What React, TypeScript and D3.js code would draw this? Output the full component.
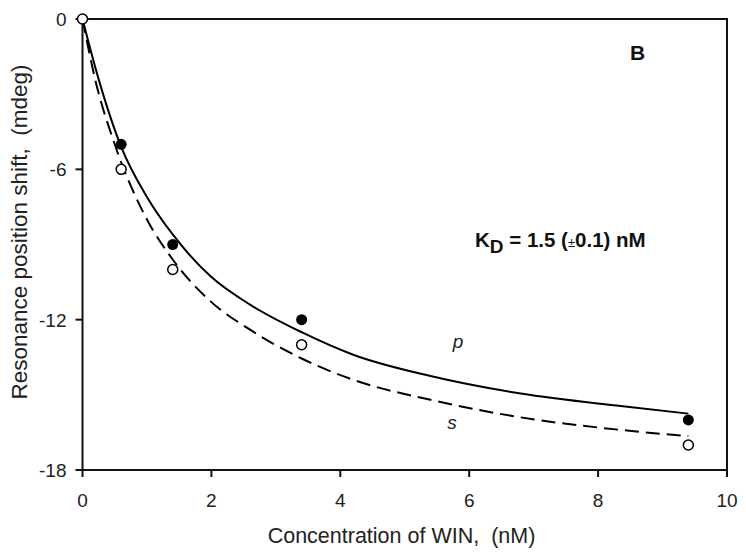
import React from "react";
import * as d3 from "d3";

// Measured points (x: concentration nM, y: shift mdeg)
const pX = [0.6, 1.4, 3.4, 9.4];
const pY = [-5.0, -9.0, -12.0, -16.0];
const sX = [0, 0.6, 1.4, 3.4, 9.4];
const sY = [0, -6.0, -10.0, -13.0, -17.0];

// Fitted curves
const pCurveX = [0, 0.25, 0.6, 1.0, 1.4, 2.0, 2.6, 3.4, 4.2, 5.4, 6.8, 8.35, 9.4];
const pCurveY = [0, -2.4, -5.1, -7.1, -8.6, -10.3, -11.4, -12.5, -13.4, -14.25, -14.95, -15.45, -15.75];
const sCurveX = [0, 0.2, 0.5, 1.0, 1.4, 2.0, 2.6, 3.4, 4.2, 5.4, 6.8, 8.35, 9.4];
const sCurveY = [0, -2.45, -5.0, -8.0, -9.6, -11.3, -12.4, -13.55, -14.4, -15.2, -15.9, -16.4, -16.65];

const xTicks = [0, 2, 4, 6, 8, 10];
const yTicks = [0, -6, -12, -18];

const W = 746, H = 555;
const L = 82.5, R = 727, T = 19, B = 470;
const FONT = "Arial, 'Liberation Sans', sans-serif";

export default function App() {
  const x = d3.scaleLinear().domain([0, 10]).range([L, R]);
  const y = d3.scaleLinear().domain([0, -18]).range([T, B]);
  const line = d3
    .line<[number, number]>()
    .x((d) => x(d[0]))
    .y((d) => y(d[1]))
    .curve(d3.curveMonotoneX);
  const pPath = line(pCurveX.map((v, i) => [v, pCurveY[i]] as [number, number])) || "";
  const sPath = line(sCurveX.map((v, i) => [v, sCurveY[i]] as [number, number])) || "";

  return (
    <svg
      width={W}
      height={H}
      style={{ position: "absolute", left: 0, top: 0, background: "#fff" }}
      fontFamily={FONT}
    >
      <rect x={0} y={0} width={W} height={H} fill="#fff" />
      {/* curves */}
      <path d={sPath} fill="none" stroke="#000" strokeWidth={2} strokeDasharray="14,7" />
      <path d={pPath} fill="none" stroke="#000" strokeWidth={2} />
      {/* frame */}
      <rect x={L} y={T} width={R - L} height={B - T} fill="none" stroke="#111" strokeWidth={2} />
      {/* ticks */}
      {xTicks.map((t) => (
        <g key={"x" + t}>
          <line x1={x(t)} x2={x(t)} y1={B} y2={B + 7} stroke="#111" strokeWidth={2} />
          <text x={x(t)} y={B + 37} textAnchor="middle" fontSize={19} fill="#222">
            {t}
          </text>
        </g>
      ))}
      {yTicks.map((t) => (
        <g key={"y" + t}>
          <line x1={L - 7} x2={L} y1={y(t)} y2={y(t)} stroke="#111" strokeWidth={2} />
          <text x={L - 16} y={y(t) + 7} textAnchor="end" fontSize={19} fill="#222">
            {t}
          </text>
        </g>
      ))}
      {/* points */}
      {pX.map((v, i) => (
        <circle key={"p" + i} cx={x(v)} cy={y(pY[i])} r={5.5} fill="#000" />
      ))}
      {sX.map((v, i) => (
        <circle key={"s" + i} cx={x(v)} cy={y(sY[i])} r={5} fill="#fff" stroke="#000" strokeWidth={1.5} />
      ))}
      {/* labels */}
      <text x={401.5} y={543} textAnchor="middle" fontSize={21.5} fill="#222">
        Concentration of WIN,{"\u00A0\u00A0"}(nM)
      </text>
      <text
        transform={`translate(27,232) rotate(-90)`}
        textAnchor="middle"
        fontSize={22.5}
        fill="#222"
      >
        Resonance position shift,{"\u00A0\u00A0"}(mdeg)
      </text>
      <text x={630} y={60} fontSize={21} fontWeight="bold" fill="#111">
        B
      </text>
      <text x={475} y={247} fontSize={20.5} fontWeight="bold" fill="#111">
        K
        <tspan dy={6} fontSize={19}>D</tspan>
        <tspan dy={-6}>{" = 1.5 ("}</tspan>
        <tspan fontSize={13} fontWeight="normal">±</tspan>
        <tspan>0.1) nM</tspan>
      </text>
      <text x={458} y={348} textAnchor="middle" fontSize={19} fontStyle="italic" fill="#222">
        p
      </text>
      <text x={452} y={429} textAnchor="middle" fontSize={19} fontStyle="italic" fill="#222">
        s
      </text>
    </svg>
  );
}
